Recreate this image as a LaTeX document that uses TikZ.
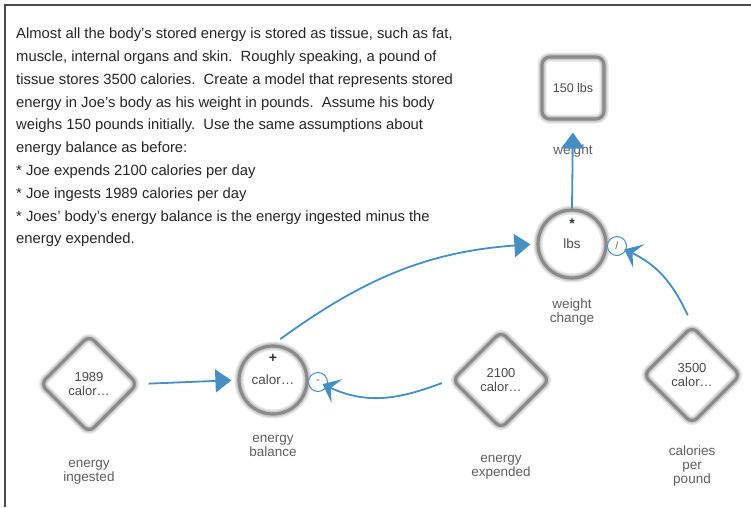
\documentclass[tikz,border=0pt]{standalone}
\usepackage{fontspec}
\setmainfont{Liberation Sans}
\usetikzlibrary{arrows.meta,shapes.geometric}
\definecolor{linkblue}{RGB}{72,142,194}
\definecolor{rimgray}{RGB}{138,138,138}
\definecolor{labelgray}{RGB}{95,95,95}
\definecolor{framegray}{RGB}{75,75,75}

\begin{document}
\begin{tikzpicture}[x=1pt,y=1pt]
  \tikzstyle{rim}=[draw=rimgray,line width=3.2pt,
    preaction={fill=white},
    preaction={draw=rimgray!22,line width=9pt},
    preaction={draw=rimgray!45,line width=6pt}]
  \tikzstyle{stock}=[rim,rounded corners=8pt,minimum size=62pt,inner sep=0pt,
    font=\fontsize{12.5}{14}\selectfont,text=labelgray!80!black]
  \tikzstyle{flow}=[rim,circle,minimum size=68pt,inner sep=0pt,
    font=\fontsize{13.5}{14}\selectfont,text=labelgray!80!black]
  \tikzstyle{const}=[rim,diamond,minimum size=98pt,inner sep=0pt,rounded corners=7pt,
    align=center,font=\fontsize{13}{14}\selectfont,text=labelgray!80!black]
  \tikzstyle{lbl}=[align=center,font=\fontsize{13.5}{14}\selectfont,text=labelgray]
  \tikzstyle{sign}=[font=\fontsize{14}{14}\selectfont\bfseries,text=black!80]
  \tikzstyle{port}=[circle,draw=linkblue,line width=1pt,fill=white,minimum size=19pt,
    inner sep=0pt,font=\fontsize{11}{11}\selectfont,text=labelgray]
  \tikzstyle{link}=[draw=linkblue,line width=1.8pt,-{Triangle[length=16pt,width=23pt]}]
  \tikzstyle{feed}=[draw=linkblue,line width=1.8pt,-{Stealth[length=16pt,width=26pt,inset=7pt]}]
  \useasboundingbox (0,0) rectangle (751,-507);
  % Frame, left and top only
  \draw[framegray,line width=1.8pt] (5,-507) |- (751,-5);
  % Task text
  \node[anchor=north west,inner sep=0pt,align=left,text=black!85,
    font=\fontsize{14.8}{22.8}\selectfont] (task) at (16,-27.7)
    {Almost all the body's stored energy is stored as tissue, such as fat,\\
     muscle, internal organs and skin.\ \ Roughly speaking, a pound of\\
     tissue stores 3500 calories.\ \ Create a model that represents stored\\
     energy in Joe's body as his weight in pounds.\ \ Assume his body\\
     weighs 150 pounds initially.\ \ Use the same assumptions about\\
     energy balance as before:\\
     * Joe expends 2100 calories per day\\
     * Joe ingests 1989 calories per day\\
     * Joes' body's energy balance is the energy ingested minus the\\
     energy expended.};
  % Stock
  \node[stock,label={[lbl,label distance=21pt]below:weight}] (wt) at (573,-88) {150 lbs};
  % Flows
  \node[flow,label={[sign,label distance=-24pt]above:*},
    label={[lbl,label distance=16pt]below:weight\\change}] (wc) at (572,-244) {lbs};
  \node[flow,label={[sign,label distance=-22pt]above:+},
    label={[lbl,label distance=16pt]below:energy\\balance}] (bal) at (273,-380) {calor\ldots};
  % Constants
  \node[const,label={[lbl,label distance=22pt]below:energy\\ingested}] (ing) at (89,-384) {1989\\calor\ldots};
  \node[const,label={[lbl,label distance=21pt]below:energy\\expended}] (exp) at (501,-380) {2100\\calor\ldots};
  \node[const,label={[lbl,label distance=17pt]below:calories\\per\\pound}] (cpp) at (692,-375) {3500\\calor\ldots};
  % Ports on the flows
  \node[port] (neg) at (318,-382) {-};
  \node[port] (div) at (617,-246) {/};
  % Links
  \draw[link,shorten <=9pt,shorten >=6pt] (ing.east) -- (bal.west);
  \draw[link,shorten <=9pt,shorten >=6pt] (bal.north) to[out=36,in=184] (wc.west);
  \draw[link,shorten >=12pt] (wc.north) -- (wt.south);
  \draw[feed,shorten <=9pt,shorten >=-5pt] (exp.west) to[out=200,in=-25] (neg);
  \draw[feed,shorten <=10pt,shorten >=-2pt] (cpp.north) to[out=115,in=-25] (div);
\end{tikzpicture}
\end{document}
